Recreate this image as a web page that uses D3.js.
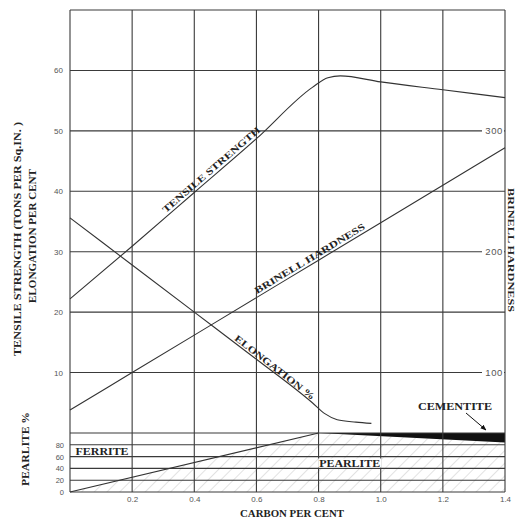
<!DOCTYPE html>
<html>
<head>
<meta charset="utf-8">
<script src="https://cdn.jsdelivr.net/npm/d3@7"></script>
<style>
  html, body { margin: 0; padding: 0; background: #fff; }
  svg { display: block; }
  .serif { font-family: "Liberation Serif", "Times New Roman", serif; font-weight: bold; fill: #222; }
  .tick text { font-family: "Liberation Sans", Arial, sans-serif; font-size: 8px; fill: #555; }
</style>
</head>
<body>
<svg id="chart" width="516" height="519"></svg>
<script>
// ---------- DATA ----------
const carbonTicks = [0.2, 0.4, 0.6, 0.8, 1.0, 1.2, 1.4];
const leftTicks = [10, 20, 30, 40, 50, 60];
const brinellTicks = [100, 200, 300];
const pearliteTicks = [0, 20, 40, 60, 80];

const tensileCarbon = [0, 0.2, 0.4, 0.6, 0.78, 0.83, 0.87, 1.0, 1.2, 1.4];
const tensileValue  = [22.2, 30.9, 39.8, 48.7, 57.2, 58.8, 59.1, 58.1, 56.8, 55.5];

const brinellCarbon = [0, 0.2, 0.4, 0.6, 0.8, 1.0, 1.2, 1.4];
const brinellValue  = [69, 100, 131, 162, 193, 224, 255, 286];

const elongCarbon = [0, 0.2, 0.4, 0.6, 0.78, 0.82, 0.86, 0.92, 0.97];
const elongValue  = [35.6, 27.8, 20.0, 12.2, 5.0, 3.2, 2.2, 1.8, 1.6];

const pearliteCarbon = [0, 0.8, 1.4];
const pearliteValue  = [0, 100, 84];

// ---------- LAYOUT ----------
const svg = d3.select("#chart");
const x = d3.scaleLinear().domain([0, 1.4]).range([70, 505]);
const yTop = d3.scaleLinear().domain([0, 70]).range([433, 10]);
const yBrinell = d3.scaleLinear().domain([50, 400]).range([433, 10]);
const yPearl = d3.scaleLinear().domain([0, 100]).range([492, 433]);

const zip = (a, b) => a.map((v, i) => [v, b[i]]);

// hatch pattern
const defs = svg.append("defs");
const pat = defs.append("pattern").attr("id", "hatch").attr("patternUnits", "userSpaceOnUse")
  .attr("width", 9).attr("height", 9).attr("patternTransform", "rotate(45)");
pat.append("rect").attr("width", 9).attr("height", 9).attr("fill", "#fff");
pat.append("line").attr("x1", 0).attr("y1", 0).attr("x2", 0).attr("y2", 9)
  .attr("stroke", "#b8b8b8").attr("stroke-width", 0.8);

const pearlData = zip(pearliteCarbon, pearliteValue);

// pearlite hatched area
svg.append("path")
  .datum(pearlData)
  .attr("fill", "url(#hatch)")
  .attr("d", d3.area().x(d => x(d[0])).y0(yPearl(0)).y1(d => yPearl(d[1])));

// cementite wedge
const cemData = pearlData.filter(d => d[0] >= 0.8);
svg.append("path")
  .datum(cemData)
  .attr("fill", "#111")
  .attr("d", d3.area().x(d => x(d[0])).y0(yPearl(100)).y1(d => yPearl(d[1])));

// grid
const grid = svg.append("g").attr("stroke", "#3a3a3a").attr("stroke-width", 1.1).attr("fill", "none");
[0].concat(carbonTicks).forEach(c => {
  grid.append("line").attr("x1", x(c)).attr("x2", x(c)).attr("y1", yTop(70)).attr("y2", yPearl(0));
});
d3.range(0, 71, 10).forEach(v => {
  grid.append("line").attr("x1", x(0)).attr("x2", x(1.4)).attr("y1", yTop(v)).attr("y2", yTop(v));
});
pearliteTicks.forEach(v => {
  grid.append("line").attr("x1", x(0)).attr("x2", x(1.4)).attr("y1", yPearl(v)).attr("y2", yPearl(v));
});

// curves
const lineGen = yScale => d3.line().x(d => x(d[0])).y(d => yScale(d[1])).curve(d3.curveMonotoneX);
const curves = svg.append("g").attr("fill", "none").attr("stroke", "#333").attr("stroke-width", 1.1);
curves.append("path").datum(zip(tensileCarbon, tensileValue)).attr("d", lineGen(yTop));
curves.append("path").datum(zip(brinellCarbon, brinellValue)).attr("d", lineGen(yBrinell));
curves.append("path").datum(zip(elongCarbon, elongValue)).attr("d", lineGen(yTop));
curves.append("path").datum(pearlData.filter(d => d[0] <= 0.8)).attr("d", d3.line().x(d => x(d[0])).y(d => yPearl(d[1])));

// axes
const leftAxis = svg.append("g").attr("transform", `translate(${x(0)},0)`)
  .call(d3.axisLeft(yTop).tickValues(leftTicks).tickSize(0).tickPadding(7).tickFormat(d3.format("d")));
leftAxis.select(".domain").remove();

const pearlAxis = svg.append("g").attr("transform", `translate(${x(0)},0)`)
  .call(d3.axisLeft(yPearl).tickValues(pearliteTicks).tickSize(0).tickPadding(6).tickFormat(d3.format("d")));
pearlAxis.select(".domain").remove();
pearlAxis.selectAll("text").style("font-size", "7.5px");

const bottomAxis = svg.append("g").attr("transform", `translate(0,${yPearl(0)})`)
  .call(d3.axisBottom(x).tickValues(carbonTicks).tickSize(0).tickPadding(4).tickFormat(d3.format(".1f")));
bottomAxis.select(".domain").remove();

const rightAxis = svg.append("g").attr("transform", `translate(${x(1.4)},0)`)
  .call(d3.axisLeft(yBrinell).tickValues(brinellTicks).tickSize(0).tickPadding(2).tickFormat(d3.format("d")));
rightAxis.select(".domain").remove();
rightAxis.selectAll(".tick").insert("rect", "text")
  .attr("x", -23).attr("y", -4).attr("width", 22).attr("height", 8).attr("fill", "#fff");
rightAxis.selectAll("text").style("font-size", "9.5px").style("letter-spacing", "0.6px");

// curve labels
function curveLabel(text, c, value, yScale, carbonArr, valueArr, dy, size, len) {
  const i = carbonArr.findIndex(v => v > c);
  const a = [x(carbonArr[i - 1]), yScale(valueArr[i - 1])];
  const b = [x(carbonArr[i]), yScale(valueArr[i])];
  const ang = Math.atan2(b[1] - a[1], b[0] - a[0]) * 180 / Math.PI;
  svg.append("text").attr("class", "serif")
    .attr("transform", `translate(${x(c)},${yScale(value)}) rotate(${ang})`)
    .attr("text-anchor", "middle").attr("dy", dy)
    .attr("textLength", len).attr("lengthAdjust", "spacingAndGlyphs")
    .style("font-size", size + "px")
    .text(text);
}
curveLabel("TENSILE  STRENGTH", 0.468, 42.8, yTop, tensileCarbon, tensileValue, -3, 9.5, 126);
curveLabel("BRINELL  HARDNESS", 0.782, 190, yBrinell, brinellCarbon, brinellValue, -3, 9.5, 127);
curveLabel("ELONGATION %", 0.65, 10.25, yTop, elongCarbon, elongValue, -1.5, 9.5, 99);

// region labels
function boxLabel(text, cx, cy, size, len, boxed) {
  const g = svg.append("g");
  const t = g.append("text").attr("class", "serif").attr("x", cx).attr("y", cy)
    .attr("text-anchor", "middle").attr("dy", "0.35em").style("font-size", size + "px")
    .attr("textLength", len).attr("lengthAdjust", "spacingAndGlyphs").text(text);
  if (boxed) {
    const bb = t.node().getBBox();
    g.insert("rect", "text").attr("x", bb.x - 1).attr("y", bb.y + 1).attr("width", bb.width + 2)
      .attr("height", bb.height - 2).attr("fill", "#fff");
  }
}
boxLabel("FERRITE", (x(0) + x(0.2)) / 2 + 1, (yPearl(80) + yPearl(60)) / 2 + 0.5, 10, 53, true);
boxLabel("PEARLITE", (x(0.8) + x(1.0)) / 2, (yPearl(60) + yPearl(40)) / 2 + 0.5, 10, 61, true);
boxLabel("CEMENTITE", 455, 406, 10.5, 74, false);

// cementite arrow
defs.append("marker").attr("id", "arrow").attr("viewBox", "0 0 10 10").attr("refX", 9).attr("refY", 5)
  .attr("markerWidth", 6).attr("markerHeight", 6).attr("orient", "auto")
  .append("path").attr("d", "M0,1 L10,5 L0,9 Z").attr("fill", "#111");
svg.append("line").attr("x1", 466).attr("y1", 413).attr("x2", 486).attr("y2", 430)
  .attr("stroke", "#111").attr("stroke-width", 1).attr("marker-end", "url(#arrow)");

// axis titles
function title(text, tx, ty, rot, size, len) {
  svg.append("text").attr("class", "serif")
    .attr("transform", `translate(${tx},${ty}) rotate(${rot})`).attr("text-anchor", "middle")
    .attr("textLength", len).attr("lengthAdjust", "spacingAndGlyphs")
    .style("font-size", size + "px").text(text);
}
title("TENSILE STRENGTH (TONS PER Sq.IN. )", 21, 239, -90, 9.5, 234);
title("ELONGATION PER CENT", 36, 236, -90, 9.5, 134);
title("PEARLITE %", 29, 449, -90, 9.5, 74);
title("BRINELL HARDNESS", 508, 250, 90, 9, 124);
title("CARBON PER CENT", 292, 517, 0, 9.5, 104);
</script>
</body>
</html>
